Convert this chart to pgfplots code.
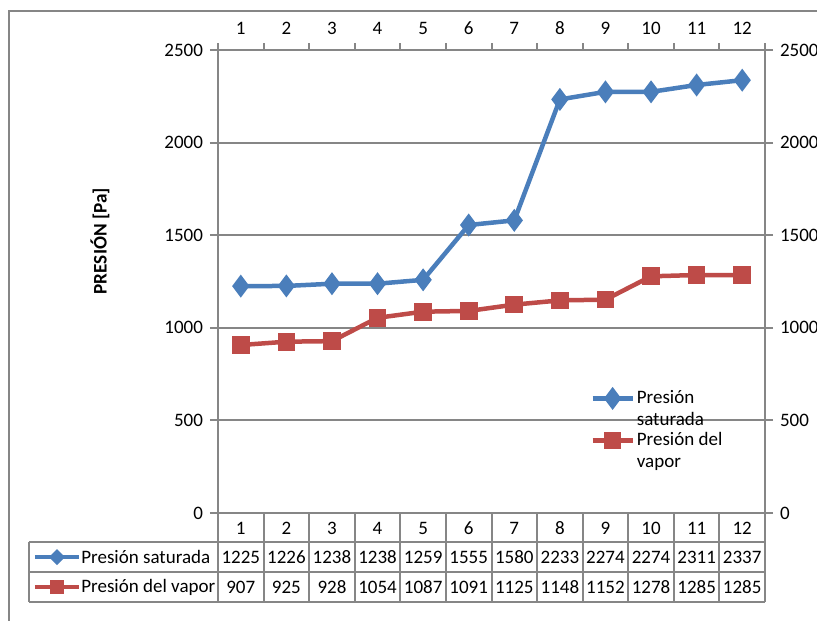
\documentclass[border=0pt]{standalone}
\usepackage{pgfplots}
\usepackage{pgfplotstable}
\pgfplotsset{compat=1.18}
\usepackage{fontspec}
\setmainfont{Carlito}
\definecolor{xlblue}{RGB}{74,126,187}
\definecolor{xlred}{RGB}{190,75,72}
\definecolor{xlgray}{RGB}{134,134,134}
\newcommand\tickfont{\fontsize{9.5}{11}\selectfont}
\pgfplotstableread{
x sat vap
1 1225 907
2 1226 925
3 1238 928
4 1238 1054
5 1259 1087
6 1555 1091
7 1580 1125
8 2233 1148
9 2274 1152
10 2274 1278
11 2311 1285
12 2337 1285
}\datatable
\begin{document}
\begin{tikzpicture}
\begin{axis}[
  at={(0,0)}, anchor=south west, scale only axis,
  width=273.5pt, height=231.5pt,
  xmin=0.5, xmax=12.5, ymin=0, ymax=2500,
  xtick={1,...,12}, xticklabel pos=upper, xtick style={draw=none},
  ytick={0,500,...,2500}, ytick pos=left, ymajorgrids,
  tick align=outside, major tick length=4pt,
  axis line style={xlgray, line width=1pt},
  ytick style={xlgray, line width=1pt},
  grid style={xlgray, line width=1pt},
  tick label style={font=\tickfont},
  /pgf/number format/assume math mode=true,
  /pgf/number format/1000 sep={},
  scaled y ticks=false,
  ylabel={PRESIÓN [Pa]},
  ylabel style={at={(axis description cs:-0.2157,0.587)}, anchor=center, font=\bfseries\fontsize{9.6}{11}\selectfont},
  legend style={at={(rel axis cs:0.680,0.270)}, anchor=north west, draw=none, fill=none, font=\tickfont, inner sep=0pt, row sep=0pt, column sep=0pt, nodes={inner sep=1pt, align=left}},
  legend cell align=left,
  legend image code/.code={\begin{scope}[yshift=5.5pt]\draw[mark repeat=2,mark phase=2] plot coordinates {(0pt,0pt) (10pt,0pt) (20pt,0pt)};\end{scope}},
]
\addplot[xlblue, line width=2.25pt, mark=diamond*, mark size=3.9pt, mark options={solid}] table[x=x,y=sat] {\datatable};
\addlegendentry{Presión\\saturada}
\addplot[xlred, line width=2.25pt, mark=square*, mark size=3.3pt, mark options={solid}] table[x=x,y=vap] {\datatable};
\addlegendentry{Presión del\\vapor}
\end{axis}
\begin{axis}[
  at={(0,0)}, anchor=south west, scale only axis,
  width=273.5pt, height=231.5pt,
  xmin=0.5, xmax=12.5, ymin=0, ymax=2500,
  axis y line*=right, axis x line=none,
  ytick={0,500,...,2500}, tick align=outside, major tick length=4pt,
  axis line style={xlgray, line width=1pt},
  ytick style={xlgray, line width=1pt},
  tick label style={font=\tickfont},
  /pgf/number format/assume math mode=true,
  /pgf/number format/1000 sep={},
  scaled y ticks=false,
]
\addplot[draw=none] coordinates {(1,0)};
\end{axis}
\begin{scope}[x=0.5pt,y=-0.5pt,xshift=-109pt,yshift=256.5pt]
  \draw[xlgray, line width=1pt] (9,660) -- (9,11) -- (840,11);
  \foreach \k in {0,...,12} {
    \draw[xlgray, line width=1pt] ({218+547/12*\k},50) -- ++(0,-7);
    \draw[xlgray, line width=1pt] ({218+547/12*\k},513) -- ({218+547/12*\k},602);
  }
  \draw[xlgray, line width=1pt] (29,542) -- (765,542);
  \draw[xlgray, line width=1pt] (29,572) -- (765,572);
  \draw[xlgray, line width=1pt] (29,602) -- (765,602);
  \draw[xlgray, line width=1pt] (29,542) -- (29,602);
  \foreach \i in {0,...,11} {
    \node[font=\tickfont] at ({218+547/12*(\i+0.5)},528) {\the\numexpr\i+1\relax};
    \pgfplotstablegetelem{\i}{sat}\of\datatable
    \node[font=\tickfont] at ({218+547/12*(\i+0.5)},557) {\pgfplotsretval};
    \pgfplotstablegetelem{\i}{vap}\of\datatable
    \node[font=\tickfont] at ({218+547/12*(\i+0.5)},587) {\pgfplotsretval};
  }
  \draw[xlblue, line width=2.25pt] (35,557) -- (79,557);
  \fill[xlblue] (57,549) -- (65,557) -- (57,565) -- (49,557) -- cycle;
  \draw[xlred, line width=2.25pt] (35,587) -- (79,587);
  \fill[xlred] (50,580) rectangle (64,594);
  \node[font=\tickfont, anchor=west, inner sep=0pt] at (81,557) {Presión saturada};
  \node[font=\tickfont, anchor=west, inner sep=0pt] at (81,587) {Presión del vapor};
  \pgfresetboundingbox
  \useasboundingbox (0,0) rectangle (817,620);
\end{scope}
\end{tikzpicture}
\end{document}
